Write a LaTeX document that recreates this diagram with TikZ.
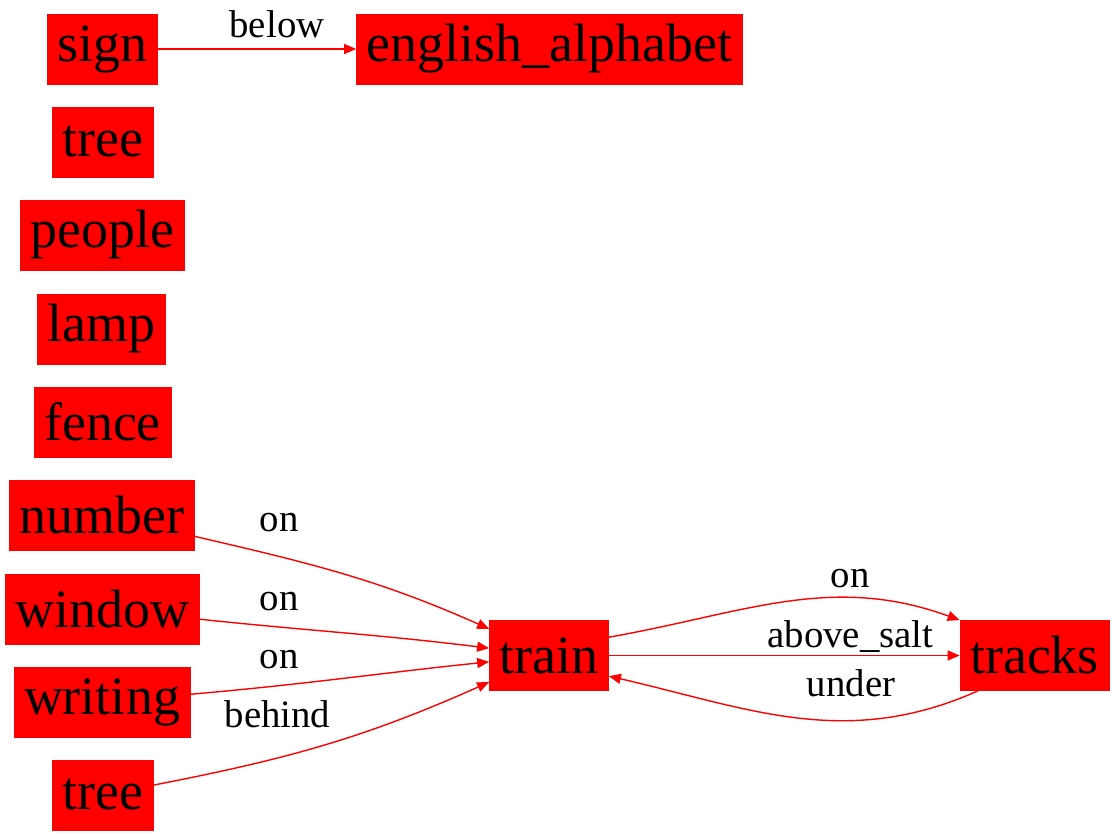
\documentclass[tikz,border=0pt]{standalone}
\usepackage{fontspec}
\setmainfont{Liberation Serif}
\usetikzlibrary{arrows.meta}
\begin{document}
\begin{tikzpicture}[x=0.5pt,y=-0.5pt,
		obj/.style={fill=red,draw=red,inner xsep=5pt,minimum height=35pt,font=\fontsize{27}{30}\selectfont},
		rel/.style={red,line width=0.7pt,-{Triangle[length=6pt,width=5pt]}},
		lbl/.style={anchor=base,inner sep=0pt,font=\fontsize{19.4}{22}\selectfont}]
		\useasboundingbox (0,0) rectangle (1116,836);
		\node[obj] (sign) at (102.5,49) {sign};
		\node[obj] (alphabet) at (549.5,49) {english\_alphabet};
		\node[obj] (tree) at (102.5,142) {tree};
		\node[obj] (people) at (102,235) {people};
		\node[obj] (lamp) at (101.5,329) {lamp};
		\node[obj] (fence) at (102.5,422) {fence};
		\node[obj] (number) at (102,515) {number};
		\node[obj] (window) at (102.5,609) {window};
		\node[obj] (writing) at (102,702) {writing};
		\node[obj] (treeb) at (102.5,795) {tree};
		\node[obj] (train) at (549,655.5) {train};
		\node[obj] (tracks) at (1034.5,655.5) {tracks};
		\draw[rel] (sign) -- (alphabet);
		\draw[rel] (number) to [out=-13,in=156] (train);
		\draw[rel] (window) to [out=-6,in=173] (train);
		\draw[rel] (writing) to [out=5,in=-174] (train);
		\draw[rel] (treeb) to [out=11,in=-156] (train);
		\draw[rel] (train.17) to [out=10,in=160] (tracks.north west);
		\draw[rel] (train.east) -- (tracks.west);
		\draw[rel] (tracks.-148) to [out=204,in=-13] (train.-19);
		\node[lbl] (lbelow) at (277,37) {below};
		\node[lbl] (lnumber) at (279,531) {on};
		\node[lbl] (lwindow) at (279,610) {on};
		\node[lbl] (lwriting) at (279,668) {on};
		\node[lbl] (lbehind) at (277.5,727) {behind};
		\node[lbl] (lon) at (850,587) {on};
		\node[lbl] (labove) at (850.5,647) {above\_salt};
		\node[lbl] (lunder) at (851,696) {under};
	\end{tikzpicture}
\end{document}
